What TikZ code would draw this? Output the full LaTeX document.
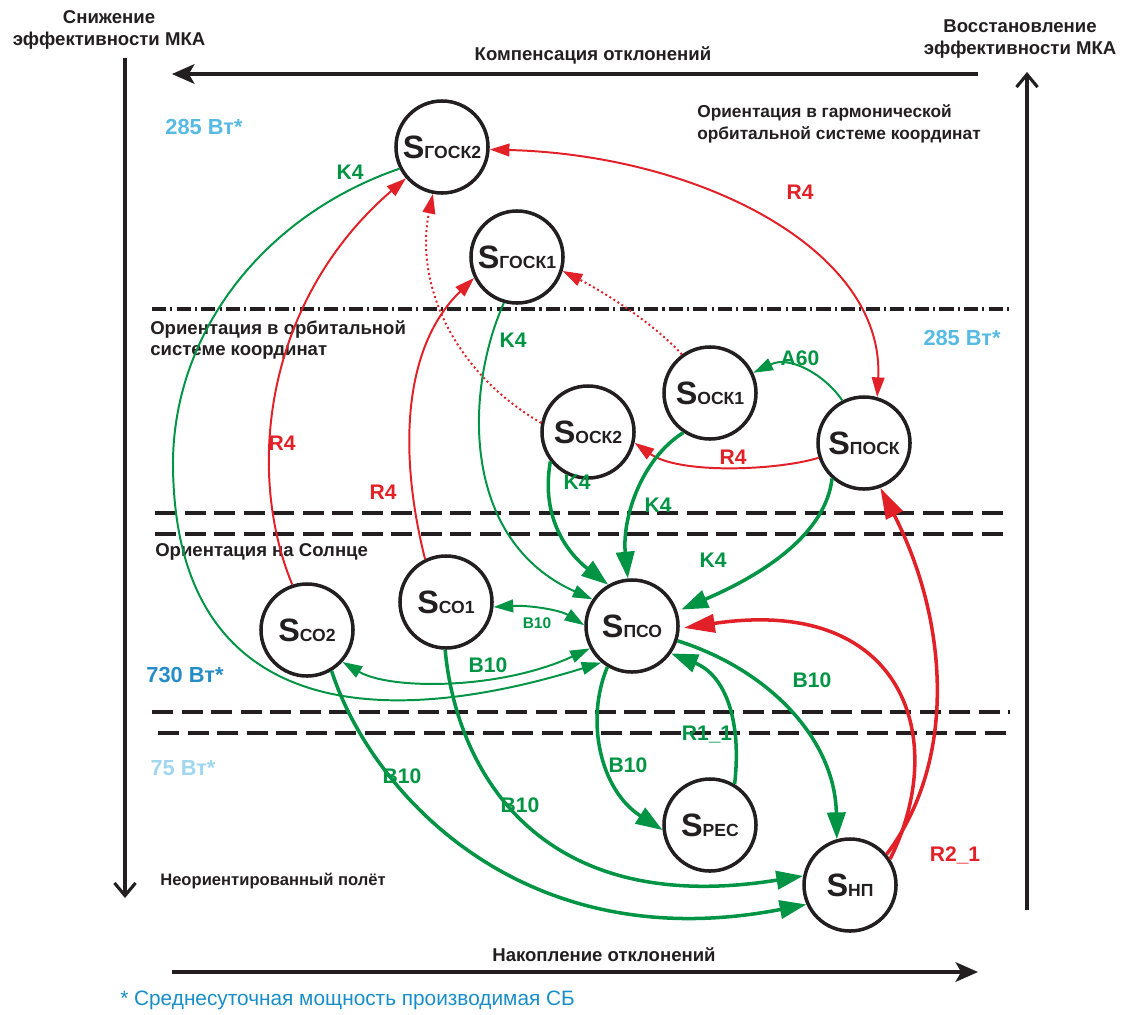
\documentclass[tikz,border=0pt]{standalone}
\usepackage{fontspec}
\setmainfont{Liberation Sans}
\usetikzlibrary{arrows.meta}
\definecolor{kgreen}{RGB}{0,148,68}
\definecolor{rred}{RGB}{226,32,40}
\definecolor{ink}{RGB}{35,31,32}
\definecolor{wlight}{RGB}{86,186,226}
\definecolor{wmid}{RGB}{36,140,198}
\definecolor{wpale}{RGB}{160,214,238}
\definecolor{noteblue}{RGB}{24,142,200}
\newcommand{\stname}[1]{{\fontsize{23}{23}\selectfont S}{\fontsize{12.5}{12.5}\selectfont #1}}
\tikzset{
		orbit state/.style={circle, draw=ink, line width=2.5pt, minimum size=2.3cm, inner sep=0pt, font=\bfseries, text=ink},
		gtip/.tip={Triangle[length=14pt,width=9pt]},
		gbig/.tip={Triangle[length=19pt,width=13pt]},
		rbig/.tip={Triangle[length=22pt,width=13pt]},
		thin green/.style={draw=kgreen, line width=1.4pt},
		thick green/.style={draw=kgreen, line width=2.5pt},
		thin red/.style={draw=rred, line width=1.4pt},
		thick red/.style={draw=rred, line width=2.5pt},
		dot red/.style={draw=rred, line width=1.4pt, dotted},
		glabel/.style={text=kgreen, font=\bfseries\fontsize{15}{15}\selectfont, inner sep=0pt},
		rlabel/.style={text=rred, font=\bfseries\fontsize{15}{15}\selectfont, inner sep=0pt},
		region/.style={text=ink, font=\bfseries\fontsize{13.2}{15.5}\selectfont, align=left, inner sep=0pt},
		power/.style={font=\bfseries\fontsize{15.5}{15.5}\selectfont, inner sep=0pt},
		frame arrow/.style={draw=ink, line width=2.2pt},
		level line/.style={draw=ink, line width=2.3pt, dash pattern=on 15pt off 6pt}
	}
\begin{document}
\begin{tikzpicture}[x=0.025cm, y=-0.025cm]
\useasboundingbox (0,0) rectangle (1128,1014);
% frame
\coordinate (ltop) at (125,58);
\coordinate (lbot) at (125,898);
\coordinate (rbot) at (1027,910);
\coordinate (rtop) at (1027,72);
\coordinate (ttr) at (978,74);
\coordinate (ttl) at (172,74);
\coordinate (bbl) at (172,972);
\coordinate (bbr) at (978,972);
\draw[frame arrow, -{Straight Barb[length=9pt,width=15pt]}] (ltop) -- (lbot);
\draw[frame arrow, -{Straight Barb[length=9pt,width=15pt]}] (rbot) -- (rtop);
\draw[frame arrow, -{Stealth[length=16pt,width=14pt,inset=4pt]}] (ttr) -- (ttl);
\draw[frame arrow, -{Stealth[length=16pt,width=14pt,inset=4pt]}] (bbl) -- (bbr);
\node[region, align=center] (tlhead) at (109,30) {Снижение\\эффективности МКА};
\node[region, align=center] (trhead) at (1020,39) {Восстановление\\эффективности МКА};
\node[region] (comp) at (593,55) {Компенсация отклонений};
\node[region] (accum) at (604,955) {Накопление отклонений};
\node[region, anchor=west, font=\bfseries\fontsize{11.8}{14}\selectfont] (nonor) at (160,881) {Неориентированный полёт};
\node[anchor=west, inner sep=0pt, text=noteblue, font=\fontsize{14.8}{14.8}\selectfont] (note) at (120,1000) {* Среднесуточная мощность производимая СБ};
% levels
\coordinate (d1l) at (152,309); \coordinate (d1r) at (1010,309);
\coordinate (d2l) at (155,513); \coordinate (d2r) at (1010,513);
\coordinate (d3l) at (155,534); \coordinate (d3r) at (1010,534);
\coordinate (d4l) at (152,712); \coordinate (d4r) at (1010,712);
\coordinate (d5l) at (158,733); \coordinate (d5r) at (1010,733);
\draw[draw=ink, line width=2.2pt, dash pattern=on 10pt off 3pt on 1.5pt off 3pt] (d1l) -- (d1r);
\draw[level line] (d2l) -- (d2r);
\draw[level line] (d3l) -- (d3r);
\draw[level line] (d4l) -- (d4r);
\draw[level line] (d5l) -- (d5r);
\node[region, anchor=west, font=\bfseries\fontsize{12.3}{15.5}\selectfont] (harm) at (697,124) {Ориентация в гармонической\\орбитальной системе координат};
\node[region, anchor=west] (orb) at (150,340) {Ориентация в орбитальной\\системе координат};
\node[region, anchor=west] (sun) at (155,552) {Ориентация на Солнце};
\node[power, text=wlight] (w1) at (204,127) {285 Вт*};
\node[power, text=wlight] (w2) at (962,338) {285 Вт*};
\node[power, text=wmid] (w3) at (185,675) {730 Вт*};
\node[power, text=wpale] (w4) at (183,768) {75 Вт*};
% states
\node[orbit state] (sgosk2) at (442,147) {\stname{ГОСК2}};
\node[orbit state] (sgosk1) at (517,257) {\stname{ГОСК1}};
\node[orbit state] (sosk1)  at (710,393) {\stname{ОСК1}};
\node[orbit state] (sosk2)  at (588,432) {\stname{ОСК2}};
\node[orbit state] (sposk)  at (864,443) {\stname{ПОСК}};
\node[orbit state] (spco)   at (632,626) {\stname{ПСО}};
\node[orbit state] (sco1)   at (446,602) {\stname{СО1}};
\node[orbit state] (sco2)   at (307,630) {\stname{СО2}};
\node[orbit state] (spec)   at (710,825) {\stname{РЕС}};
\node[orbit state] (snp)    at (850,885) {\stname{НП}};
% red transitions
\draw[thin red, gtip-gtip] (sgosk2.-3) .. controls (700,155) and (885,250) .. (sposk.74);
\draw[thin red, -gtip] (sco2.108) .. controls (245,470) and (265,300) .. (sgosk2.221);
\draw[thin red, -gtip] (sco1.116) .. controls (400,460) and (400,350) .. (sgosk1.206);
\draw[thin red, -gtip] (sposk.198) .. controls (780,470) and (680,475) .. (sosk2.-13);
\draw[dot red, -gtip] (sosk2.169) .. controls (450,370) and (415,280) .. (sgosk2.259);
\draw[dot red, -gtip] (sosk1.126) .. controls (650,320) and (600,290) .. (sgosk1.-17);
\draw[thick red, -rbig, shorten >=3pt] (snp.33) .. controls (950,740) and (905,595) .. (spco.-3);
\draw[thick red, -rbig] (snp.40) .. controls (958,760) and (948,620) .. (sposk.-70);
% green transitions
\draw[thin green, -gtip] (sposk.117) .. controls (825,375) and (790,355) .. (sosk1.25);
\draw[thin green, -gtip] (sgosk2.207) .. controls (265,215) and (175,330) .. (173,460) .. controls (172,700) and (350,740) .. (spco.230);
\draw[thin green, gtip-gtip] (sco2.-42) .. controls (390,690) and (500,690) .. (spco.208);
\draw[thin green, gtip-gtip] (sco1.-6) .. controls (530,605) and (560,610) .. (spco.179);
\draw[thin green, -gtip] (sgosk1.254) .. controls (465,390) and (460,540) .. (spco.146);
\draw[thick green, -gbig] (sosk2.218) .. controls (540,520) and (570,555) .. (spco.120);
\draw[thick green, -gbig] (sosk1.236) .. controls (640,460) and (622,520) .. (spco.95);
\draw[thick green, -gbig, shorten >=3pt] (sposk.228) .. controls (825,540) and (750,580) .. (spco.18);
\draw[thick green, -gbig] (spco.-18) .. controls (770,670) and (835,740) .. (snp.106);
\draw[thick green, -gbig] (spco.239) .. controls (585,720) and (600,790) .. (spec.186);
\draw[thick green, -gbig] (spec.59) .. controls (742,720) and (725,675) .. (spco.-35);
\draw[thick green, -gbig] (sco2.-59) .. controls (370,790) and (520,960) .. (snp.204);
\draw[thick green, -gbig] (sco1.269) .. controls (455,760) and (530,920) .. (snp.169);
% labels
\node[rlabel] (l1) at (800,192) {R4};
\node[rlabel] (l2) at (282,443) {R4};
\node[rlabel] (l3) at (383,492) {R4};
\node[rlabel] (l4) at (733,457) {R4};
\node[rlabel] (l5) at (955,855) {R2\_1};
\node[glabel] (l6) at (350,172) {K4};
\node[glabel] (l7) at (513,340) {K4};
\node[glabel] (l8) at (577,482) {K4};
\node[glabel] (l9) at (658,505) {K4};
\node[glabel] (l10) at (713,560) {K4};
\node[glabel] (l11) at (800,358) {A60};
\node[glabel] (l12) at (488,665) {B10};
\node[glabel, font=\bfseries\fontsize{11}{11}\selectfont] (l13) at (537,623) {B10};
\node[glabel] (l14) at (812,680) {B10};
\node[glabel] (l15) at (628,765) {B10};
\node[glabel] (l16) at (707,735) {R1\_1};
\node[glabel] (l17) at (402,776) {B10};
\node[glabel] (l18) at (520,805) {B10};
\end{tikzpicture}
\end{document}
